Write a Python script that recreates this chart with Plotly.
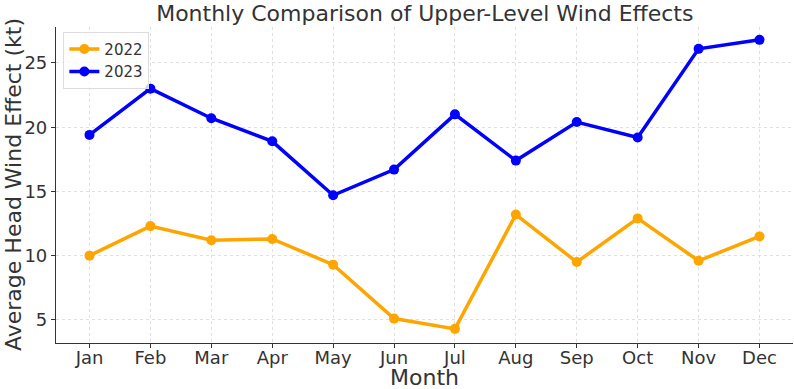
import plotly.graph_objects as go

months = ["Jan", "Feb", "Mar", "Apr", "May", "Jun", "Jul", "Aug", "Sep", "Oct", "Nov", "Dec"]
values_2022 = [10.0, 12.3, 11.2, 11.3, 9.3, 5.1, 4.3, 13.2, 9.5, 12.9, 9.6, 11.5]
values_2023 = [19.4, 23.0, 20.7, 18.9, 14.7, 16.7, 21.0, 17.4, 20.4, 19.2, 26.1, 26.8]
y_ticks = [5, 10, 15, 20, 25]

FONT = "DejaVu Sans, sans-serif"
TXT = "#333333"
fig = go.Figure()
fig.add_trace(go.Scatter(x=months, y=values_2022, mode="lines+markers", name="2022",
                         line=dict(color="#FFA500", width=3.5), marker=dict(size=10, color="#FFA500")))
fig.add_trace(go.Scatter(x=months, y=values_2023, mode="lines+markers", name="2023",
                         line=dict(color="#0000FF", width=3.5), marker=dict(size=10, color="#0000FF")))

fig.update_layout(
    width=794, height=389,
    margin=dict(l=56, r=1, t=27, b=46),
    paper_bgcolor="white", plot_bgcolor="white",
    font=dict(family=FONT, color=TXT),
    title=dict(text="Monthly Comparison of Upper-Level Wind Effects", x=0.535, xanchor="center",
               y=0.965, yanchor="middle", font=dict(size=22, color=TXT)),
    xaxis=dict(range=[-0.55, 11.55], showline=True, linecolor=TXT, linewidth=1.2, automargin=False,
               showgrid=True, gridcolor="#e0e0e0", griddash="dot", gridwidth=1,
               ticks="outside", ticklen=4, tickcolor=TXT, ticklabelstandoff=-6,
               tickfont=dict(size=18, color=TXT), zeroline=False),
    yaxis=dict(range=[3.2, 27.8], tickvals=y_ticks, showline=True, linecolor=TXT, linewidth=1.2,
               automargin=False,
               showgrid=True, gridcolor="#e0e0e0", griddash="dot", gridwidth=1,
               ticks="outside", ticklen=4, tickcolor=TXT,
               tickfont=dict(size=18, color=TXT), zeroline=False),
    legend=dict(x=0.01, y=0.985, xanchor="left", yanchor="top", bgcolor="rgba(255,255,255,0.8)",
                bordercolor="#dddddd", borderwidth=1, font=dict(size=15, color=TXT),
                itemwidth=30, tracegroupgap=0),
    annotations=[
        dict(text="Month", xref="paper", yref="paper", x=0.5, y=0, yshift=-34,
             xanchor="center", yanchor="middle", showarrow=False, font=dict(size=22, color=TXT)),
        dict(text="Average Head Wind Effect (kt)", xref="paper", yref="paper", x=0, xshift=-43, y=0.5,
             textangle=-90, xanchor="center", yanchor="middle", showarrow=False,
             font=dict(size=22, color=TXT)),
    ],
)

fig.write_html("out.html", post_script="document.body.style.margin='0';",
               config={"displayModeBar": False})
